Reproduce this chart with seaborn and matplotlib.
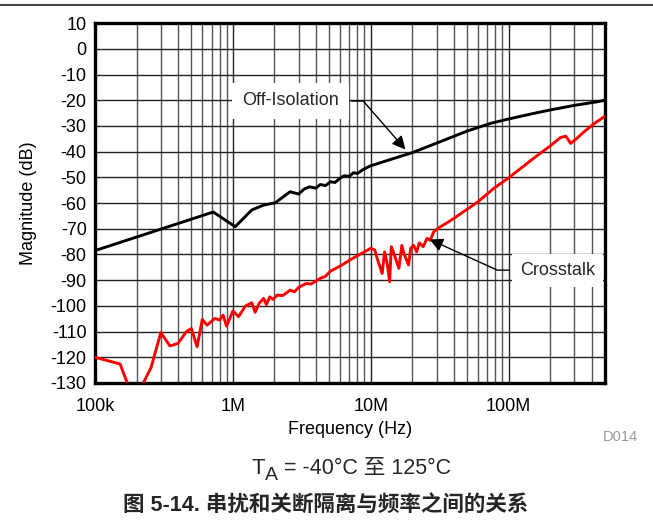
import numpy as np
import pandas as pd
import matplotlib
matplotlib.use("Agg")
import matplotlib.pyplot as plt
from matplotlib.lines import Line2D
from matplotlib.transforms import IdentityTransform
from matplotlib.ticker import LogLocator, NullFormatter
import seaborn as sns

# Off-isolation curve (Hz, dB)
off_freq = [1e5, 7.2e5, 1.04e6, 1.37e6, 1.67e6, 2.03e6, 2.6e6, 3.0e6, 3.3e6, 3.6e6,
            4.0e6, 4.3e6, 4.7e6, 5.1e6, 5.5e6, 6.0e6, 6.4e6, 7.0e6, 7.5e6, 8.0e6,
            8.9e6, 1e7, 1.4e7, 2e7, 3e7, 5e7, 7.4e7, 1e8, 1.5e8, 2e8, 3e8, 4.4e8, 5e8]
off_db = [-78.5, -63.5, -69.2, -62.7, -60.8, -59.9, -55.6, -56.5, -54.5, -53.7,
          -54.2, -52.8, -53.2, -51.7, -52.0, -50.3, -49.4, -49.6, -48.2, -48.5,
          -46.8, -45.5, -43.0, -40.4, -36.7, -32.0, -29.0, -27.3, -25.2, -23.8, -22.0, -20.6, -20.0]

# Crosstalk curve (Hz, dB)
xt_freq = [1e5, 1.52e5, 1.8e5, 2.1e5, 2.24e5, 2.55e5, 3.0e5, 3.5e5, 4.0e5, 4.6e5,
           5.0e5, 5.5e5, 6.0e5, 6.5e5, 7.0e5, 7.4e5, 8.0e5, 8.5e5, 9.0e5, 1.0e6,
           1.1e6, 1.23e6, 1.37e6, 1.45e6, 1.55e6, 1.67e6, 1.75e6, 1.85e6, 1.95e6, 2.1e6,
           2.3e6, 2.6e6, 2.8e6, 3.0e6, 3.4e6, 3.7e6, 4.3e6, 4.7e6, 5.1e6, 6e6,
           7e6, 8e6, 9e6, 1e7, 1.07e7, 1.12e7, 1.21e7, 1.26e7, 1.32e7, 1.37e7,
           1.41e7, 1.48e7, 1.6e7, 1.68e7, 1.75e7, 1.88e7, 1.95e7, 2.05e7, 2.15e7, 2.25e7,
           2.4e7, 2.56e7, 2.7e7, 2.86e7, 3.2e7, 3.5e7, 4e7, 4.7e7, 6e7, 7.8e7,
           1e8, 1.5e8, 2e8, 2.38e8, 2.6e8, 2.82e8, 3.1e8, 3.52e8, 4.2e8, 5e8]
xt_db = [-120, -122.6, -133, -133, -130, -124, -110.4, -115.6, -114.6, -110,
         -108.8, -115.9, -105.3, -107.5, -106, -104.9, -105.5, -103.6, -107.9, -102,
         -104.2, -100.1, -98.8, -102.5, -99, -97.1, -99.5, -96.5, -97.5, -95.8,
         -96, -93.9, -94.5, -92.8, -91.3, -91.5, -89.3, -88.5, -86.5, -84.5,
         -82.3, -80.5, -79, -77.6, -78.3, -82, -87.4, -79, -84, -90.6,
         -77, -80, -85.4, -76.5, -80, -84.1, -77.5, -76.5, -79, -75.5,
         -77, -73.7, -74.5, -71.2, -69.2, -68, -66, -63.4, -59.5, -54.3,
         -50.2, -42.8, -37.8, -34.5, -34.0, -36.8, -35, -32.3, -29, -26.2]

x_ticks = [1e5, 1e6, 1e7, 1e8]
x_ticklabels = ["100k", "1M", "10M", "100M"]
y_ticks = list(range(-130, 11, 10))

df = pd.concat([
    pd.DataFrame({"freq": off_freq, "db": off_db, "series": "Off-Isolation"}),
    pd.DataFrame({"freq": xt_freq, "db": xt_db, "series": "Crosstalk"}),
])

sns.set_theme(style="white")
plt.rcParams["font.family"] = ["Liberation Sans", "Noto Sans CJK SC"]
plt.rcParams["axes.unicode_minus"] = False

fig = plt.figure(figsize=(6.53, 5.25), dpi=100)
ax = fig.add_axes([0.1455, 0.2705, 0.781, 0.6855])

ax.set_xscale("log")
ax.set_xlim(1e5, 5e8)
ax.set_ylim(-130, 10)

sns.lineplot(data=df, x="freq", y="db", hue="series",
             palette={"Off-Isolation": "black", "Crosstalk": "#ff0000"},
             estimator=None, sort=False, legend=False, lw=2.1, ax=ax, zorder=3)

ax.set_xticks(x_ticks)
ax.set_xticklabels(x_ticklabels)
ax.xaxis.set_minor_locator(LogLocator(base=10, subs=np.arange(2, 10)))
ax.xaxis.set_minor_formatter(NullFormatter())
ax.set_yticks(y_ticks)
ax.grid(which="major", color="#222222", lw=1)
ax.grid(which="minor", axis="x", color="#555555", lw=1)
ax.set_axisbelow(True)
ax.tick_params(which="both", length=0, labelsize=13, colors="black")
ax.tick_params(axis="x", pad=11)
ax.tick_params(axis="y", pad=6)

for s in ax.spines.values():
    s.set_color("black")
    s.set_linewidth(2.4)

ax.set_xlabel("Frequency (Hz)", fontsize=13, labelpad=4, color="black")
ax.set_ylabel("Magnitude (dB)", fontsize=13, labelpad=10, color="black")

arrow = dict(arrowstyle="-|>", color="black", lw=1, mutation_scale=20)
ax.annotate("Off-Isolation", xy=(1.84e7, -40), xytext=(2.61e6, -20.3),
            fontsize=13, ha="center", va="center", zorder=5,
            bbox=dict(boxstyle="square,pad=0.55", fc="white", ec="none"),
            arrowprops=dict(connectionstyle="angle,angleA=0,angleB=131,rad=0", **arrow))
ax.annotate("Crosstalk", xy=(2.56e7, -73.7), xytext=(2.26e8, -86.1),
            fontsize=13, ha="center", va="center", zorder=5,
            bbox=dict(boxstyle="square,pad=0.45", fc="white", ec="none"),
            arrowprops=dict(connectionstyle="angle,angleA=0,angleB=155.6,rad=0", **arrow))

# page decorations
fig.add_artist(Line2D([0, 1], [0.9905, 0.9905], color="#444444", lw=1.5))
fig.text(0.95, 0.167, "D014", fontsize=10.5, color="#9a9a9a", ha="center", va="center")

# T_A condition line, pieces placed in pixels next to each other
base_y = 525 - 474.3
renderer = fig.canvas.get_renderer()
t1 = fig.text(251.7, base_y, "T", fontsize=16, ha="left", va="baseline",
              transform=IdentityTransform())
x_next = t1.get_window_extent(renderer).x1
t2 = fig.text(x_next, base_y - 5.7, "A", fontsize=14, ha="left", va="baseline",
              transform=IdentityTransform())
x_next = t2.get_window_extent(renderer).x1
fig.text(x_next, base_y, " = -40°C 至 125°C", fontsize=15.5, ha="left", va="baseline",
         transform=IdentityTransform())

fig.text(0.498, 0.036, "图 5-14. 串扰和关断隔离与频率之间的关系", fontsize=15.5,
         fontweight="bold", ha="center", va="center",
         family=["Liberation Sans", "Noto Sans CJK SC"])

fig.savefig("out.png", dpi=100)
